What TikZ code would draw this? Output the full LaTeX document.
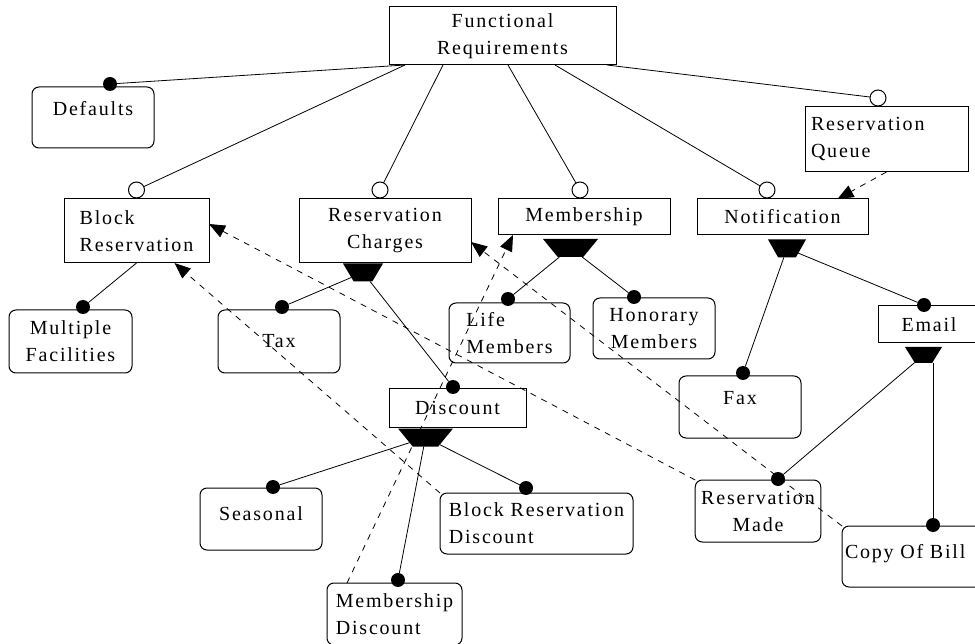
\documentclass[tikz,border=0pt]{standalone}
\usepackage{fontspec}
\setmainfont{Liberation Serif}[LetterSpace=9]
\usetikzlibrary{shapes.geometric,arrows.meta}

\begin{document}
\begin{tikzpicture}[x=1pt,y=-1pt,every node/.style={outer sep=0pt},line width=0.8pt,
 reqbox/.style={draw,line width=1pt,inner xsep=6pt,inner ysep=0pt,
 font=\fontsize{20}{27}\selectfont},
 featbox/.style={reqbox,rounded corners=7pt},
 mandot/.style={circle,fill,inner sep=0pt,minimum size=14pt},
 optdot/.style={circle,draw,line width=1pt,fill=white,inner sep=0pt,minimum size=16pt},
 altgroup/.style={trapezium,fill,inner sep=1pt,trapezium stretches=true,
 shape border rotate=180,trapezium left angle=60,trapezium right angle=60,
 minimum height=18pt},
 requires/.style={dash pattern=on 6pt off 6pt,-{Triangle[length=16pt,width=13pt]}}]

  \path[use as bounding box,fill=white] (0,0) rectangle (975,644);

  % features
  \node[reqbox,align=center,minimum width=227pt,minimum height=58pt] (fr) at (502.5,36) {Functional\\Requirements};
  \node[featbox,text depth=19pt,minimum width=122pt,minimum height=61pt] (defaults) at (93,117.5) {Defaults};
  \node[reqbox,align=left,text width=151pt,minimum height=65pt] (queue) at (886.5,139.5) {Reservation\\Queue};
  \node[reqbox,align=left,minimum width=145pt,minimum height=64pt] (blockres) at (136.5,231) {Block\\Reservation};
  \node[reqbox,align=center,minimum width=172pt,minimum height=64pt] (charges) at (385,231) {Reservation\\Charges};
  \node[reqbox,minimum width=172pt,minimum height=36pt] (membership) at (584,217) {Membership};
  \node[reqbox,minimum width=171pt,minimum height=36pt] (notification) at (782.5,217) {Notification};

  \node[featbox,align=center,minimum width=123pt,minimum height=63pt] (multfac) at (70.5,341.5) {Multiple\\Facilities};
  \node[featbox,minimum width=122pt,minimum height=63pt] (tax) at (279,341.5) {Tax};
  \node[featbox,align=left,minimum width=121pt,minimum height=60pt] (life) at (509.5,333) {Life\\Members};
  \node[featbox,align=center,minimum width=122pt,minimum height=61pt] (honorary) at (654,328.5) {Honorary\\Members};
  \node[reqbox,minimum width=102pt,minimum height=37pt] (email) at (929,324.5) {Email};
  \node[featbox,text depth=18pt,minimum width=122pt,minimum height=62pt] (fax) at (740,407) {Fax};
  \node[reqbox,minimum width=137pt,minimum height=38pt] (discount) at (457.5,408) {Discount};

  \node[featbox,align=center,minimum width=122pt,minimum height=62pt] (resmade) at (758,511) {Reservation\\Made};
  \node[featbox,align=left,text depth=11pt,inner xsep=3pt,text width=142pt,minimum height=61pt] (copybill) at (916,556.5) {Copy~Of~Bill};
  \node[featbox,text depth=10pt,minimum width=122pt,minimum height=62pt] (seasonal) at (261,519) {Seasonal};
  \node[featbox,align=left,minimum width=193pt,minimum height=61pt] (brdiscount) at (536.5,523.5) {Block Reservation\\Discount};
  \node[featbox,align=left,minimum width=135pt,minimum height=62pt] (memdiscount) at (394.5,614) {Membership\\Discount};

  % optional and mandatory ends
  \node[mandot] (d-def) at ([xshift=17pt,yshift=3pt]defaults.north) {};
  \node[optdot] (o-blk) at ([yshift=9pt]blockres.north) {};
  \node[optdot] (o-chg) at ([xshift=-5pt,yshift=9pt]charges.north) {};
  \node[optdot] (o-mem) at ([xshift=-4pt,yshift=9pt]membership.north) {};
  \node[optdot] (o-not) at ([xshift=-15.5pt,yshift=9pt]notification.north) {};
  \node[optdot] (o-que) at ([xshift=-8.5pt,yshift=9pt]queue.north) {};
  \node[mandot] (d-mul) at ([xshift=12.5pt,yshift=3pt]multfac.north) {};
  \node[mandot] (d-tax) at ([xshift=3pt,yshift=3pt]tax.north) {};
  \node[mandot] (d-life) at ([xshift=-1.5pt,yshift=4pt]life.north) {};
  \node[mandot] (d-hon) at ([xshift=-20pt,yshift=1pt]honorary.north) {};
  \node[mandot] (d-email) at ([xshift=-5pt,yshift=1pt]email.north) {};
  \node[mandot] (d-fax) at ([xshift=3pt,yshift=3pt]fax.north) {};
  \node[mandot] (d-disc) at ([xshift=-4.5pt,yshift=2pt]discount.north) {};
  \node[mandot] (d-made) at ([xshift=20pt,yshift=1pt]resmade.north) {};
  \node[mandot] (d-copy) at ([xshift=91pt,yshift=1pt]copybill.north west) {};
  \node[mandot] (d-seas) at ([xshift=12pt,yshift=1pt]seasonal.north) {};
  \node[mandot] (d-brd) at ([xshift=-10.5pt,yshift=5pt]brdiscount.north) {};
  \node[mandot] (d-mdis) at ([xshift=3.5pt,yshift=3pt]memdiscount.north) {};

  % alternative groups
  \node[altgroup,minimum width=40pt] (g-chg) at (363,272.5) {};
  \node[altgroup,minimum width=55pt] (g-mem) at (570.5,248) {};
  \node[altgroup,minimum width=38pt] (g-not) at (787,248.5) {};
  \node[altgroup,minimum width=55pt] (g-disc) at (425.5,437.5) {};
  \node[altgroup,minimum width=37pt,minimum height=16pt] (g-mail) at (923.5,355) {};

  \foreach \X/\S in {d-def/16,o-blk/16,o-chg/54,o-mem/119,o-not/166,o-que/218}
   {\draw ([xshift=\S pt]fr.south west) -- (\X);}
  \draw (blockres.south) -- (d-mul);
  \foreach \G/\X in {g-chg/d-tax,g-chg/d-disc,g-mem/d-life,g-mem/d-hon,
   g-not/d-fax,g-not/d-email,g-mail/d-made,
   g-disc/d-seas,g-disc/d-mdis,g-disc/d-brd}
   {\draw (\G) -- (\X);}
  \draw (d-copy |- g-mail.south) -- (d-copy);

  % requires
  \draw[requires] (queue.south) -- ([xshift=55pt]notification.north);
  \draw[requires] (resmade.north west) -- ([yshift=7pt]blockres.east);
  \draw[requires] (brdiscount.north west) -- ([xshift=38pt]blockres.south);
  \draw[requires] (copybill.north west) -- ([yshift=-11pt]charges.east);
  \draw[requires] ([xshift=20pt]memdiscount.north west) -- ([xshift=15pt]membership.south west);

\end{tikzpicture}
\end{document}
